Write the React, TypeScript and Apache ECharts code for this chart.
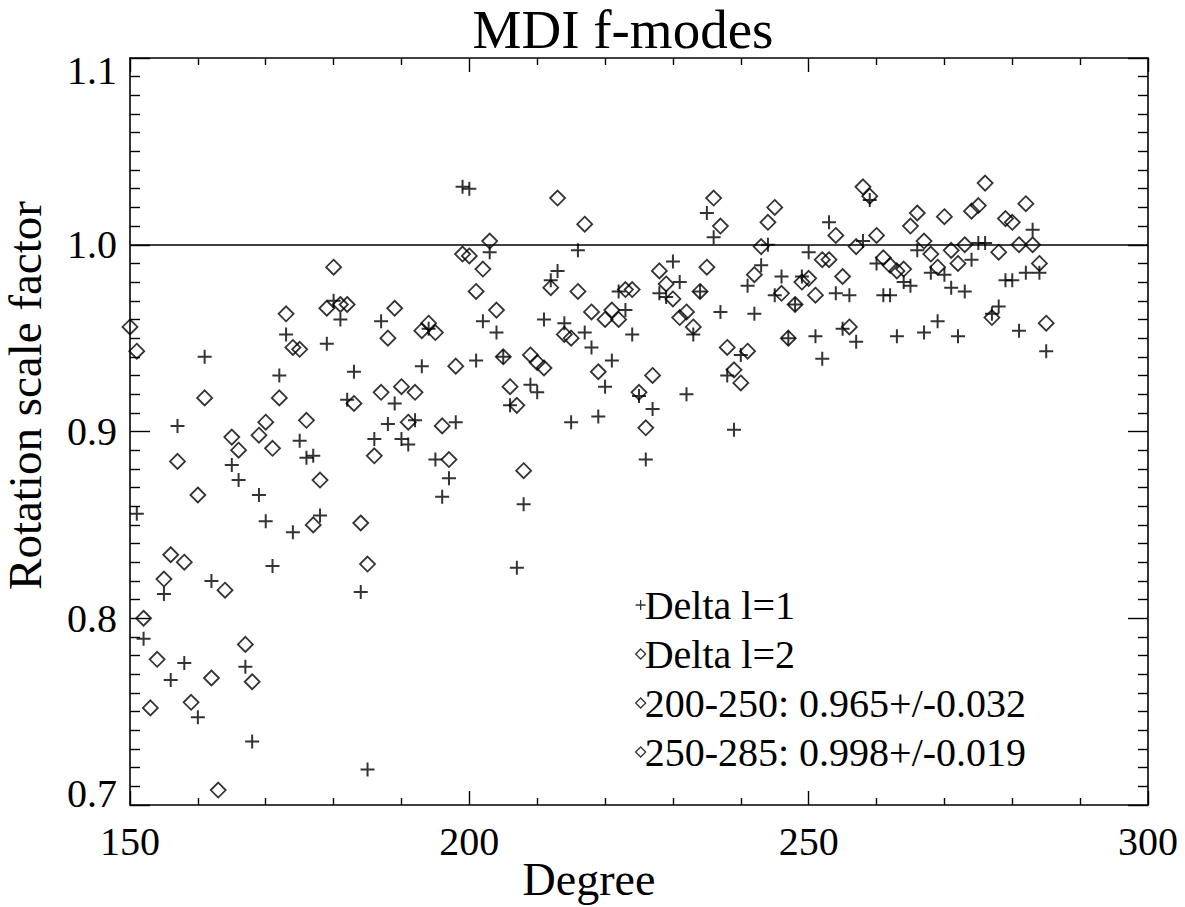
import React, { useEffect, useRef } from "react";
import * as echarts from "echarts";

const FONT = "Liberation Serif";

// Spherical harmonic degree l
const degrees = [
  150, 151, 152, 153, 154, 155, 156, 157, 158, 159, 160, 161, 162, 163, 164, 165, 166, 167, 168, 169,
  170, 171, 172, 173, 174, 175, 176, 177, 178, 179, 180, 181, 182, 183, 184, 185, 186, 187, 188, 189,
  190, 191, 192, 193, 194, 195, 196, 197, 198, 199, 200, 201, 202, 203, 204, 205, 206, 207, 208, 209,
  210, 211, 212, 213, 214, 215, 216, 217, 218, 219, 220, 221, 222, 223, 224, 225, 226, 227, 228, 229,
  230, 231, 232, 233, 234, 235, 236, 237, 238, 239, 240, 241, 242, 243, 244, 245, 246, 247, 248, 249,
  250, 251, 252, 253, 254, 255, 256, 257, 258, 259, 260, 261, 262, 263, 264, 265, 266, 267, 268, 269,
  270, 271, 272, 273, 274, 275, 276, 277, 278, 279, 280, 281, 282, 283, 284, 285,
];

// Delta l = 1 (plus symbols); null = outside the plotted range
const deltaL1 = [
  null, 0.856, 0.789, null, null, 0.813, 0.767, 0.903, 0.776, null, 0.747, 0.94, 0.82, null, null, 0.882, 0.874, 0.774, 0.734, 0.866,
  0.852, 0.828, 0.93, 0.952, 0.846, 0.895, 0.886, 0.887, 0.855, 0.947, 0.97, 0.96, 0.917, 0.932, 0.814, 0.719, 0.896, 0.959, 0.904, 0.915,
  0.896, 0.893, 0.906, 0.935, 0.955, 0.885, 0.865, 0.875, 0.905, 1.031, 1.03, 0.938, 0.959, 0.996, 0.953, 0.94, 0.914, 0.827, 0.861, 0.925,
  0.921, 0.96, 0.981, 0.986, 0.958, 0.905, 0.997, 0.953, 0.945, 0.908, 0.924, 0.938, 0.975, 0.965, 0.952, 0.919, 0.885, 0.912, 0.974, 0.972,
  0.991, 0.98, 0.92, 0.952, 0.975, 1.017, 1.004, 0.964, 0.93, 0.901, 0.941, 0.978, 0.963, 0.989, 1.0, 0.973, 0.983, 0.95, 0.968, 0.983,
  0.996, 0.951, 0.939, 1.012, 0.974, 0.955, 0.973, 0.948, 1.002, 1.024, 0.99, 0.973, 0.973, 0.951, 0.98, 0.978, 0.997, 0.953, 0.985, 0.959,
  0.984, 0.977, 0.951, 0.975, 0.992, 1.001, 1.001, 0.963, 0.967, 0.981, 0.981, 0.954, 0.985, 1.008, 0.985, 0.943,
];

// Delta l = 2 (diamond symbols)
const deltaL2 = [
  0.956, 0.943, 0.8, 0.752, 0.778, 0.821, 0.834, 0.884, 0.83, 0.755, 0.866, 0.918, 0.768, 0.708, 0.815, 0.897, 0.89, 0.786, 0.766, 0.898,
  0.905, 0.891, 0.918, 0.963, 0.945, 0.944, 0.906, 0.85, 0.874, 0.966, 0.988, 0.968, 0.968, 0.915, 0.851, 0.829, 0.887, 0.921, 0.95, 0.966,
  0.924, 0.905, 0.921, 0.954, 0.958, 0.953, 0.903, 0.885, 0.935, 0.995, 0.994, 0.975, 0.987, 1.002, 0.965, 0.94, 0.924, 0.914, 0.879, 0.941,
  0.937, 0.934, 0.977, 1.025, 0.952, 0.95, 0.975, 1.011, 0.964, 0.932, 0.96, 0.965, 0.96, 0.976, 0.976, 0.921, 0.902, 0.93, 0.986, 0.979,
  0.971, 0.961, 0.964, 0.956, 0.975, 0.988, 1.025, 1.01, 0.945, 0.933, 0.926, 0.943, 0.984, 0.999, 1.012, 1.02, 0.974, 0.95, 0.968, 0.98,
  0.982, 0.973, 0.992, 0.992, 1.005, 0.983, 0.956, 0.999, 1.031, 1.026, 1.005, 0.993, 0.989, 0.986, 0.987, 1.01, 1.017, 1.002, 0.995, 0.988,
  1.015, 0.997, 0.99, 1.0, 1.018, 1.021, 1.033, 0.961, 0.996, 1.014, 1.012, 1.0, 1.022, 1.0, 0.99, 0.958,
];

const legendNames = [
  "Delta l=1",
  "Delta l=2",
  "200-250: 0.965+/-0.032",
  "250-285: 0.998+/-0.019",
];
const xAxisTitle = "Degree";
const yAxisTitle = "Rotation scale factor";
const chartTitle = "MDI f-modes";
const referenceLevel = 1.0;
const xTicks = { min: 150, max: 300, interval: 50 };
const yTicks = { min: 0.7, max: 1.1, interval: 0.1 };

const PLUS = "path://M0,7L14,7M7,0L7,14";

function pairs(values: (number | null)[]) {
  const out: [number, number][] = [];
  values.forEach((v, i) => {
    if (v !== null) out.push([degrees[i], v]);
  });
  return out;
}

export default function App() {
  const ref = useRef<HTMLDivElement>(null);

  useEffect(() => {
    if (!ref.current) return;
    const chart = echarts.init(ref.current, undefined, { renderer: "svg" });
    const axisLine = { lineStyle: { color: "#000", width: 1.6 } };
    const lineStyle = { color: "#000", width: 1.4 };

    const xBase = {
      type: "value",
      min: xTicks.min,
      max: xTicks.max,
      interval: xTicks.interval,
      axisLine: { ...axisLine, onZero: false },
      axisTick: { show: true, inside: true, length: 14, lineStyle },
      minorTick: { show: true, splitNumber: 5, length: 7, lineStyle },
      splitLine: { show: false },
      minorSplitLine: { show: false },
    };
    const yBase = {
      type: "value",
      min: yTicks.min,
      max: yTicks.max,
      interval: yTicks.interval,
      axisLine: { ...axisLine, onZero: false },
      axisTick: { show: true, inside: true, length: 20, lineStyle },
      minorTick: { show: true, splitNumber: 10, length: 10, lineStyle },
      splitLine: { show: false },
      minorSplitLine: { show: false },
    };

    chart.setOption({
      animation: false,
      backgroundColor: "#ffffff",
      textStyle: { fontFamily: FONT, color: "#000" },
      title: {
        text: chartTitle,
        left: 623,
        textAlign: "center",
        top: 0,
        padding: 0,
        textStyle: {
          fontFamily: FONT,
          fontSize: 55,
          lineHeight: 58,
          fontWeight: "normal",
          color: "#000",
        },
      },
      grid: {
        left: 130,
        top: 58,
        right: 37,
        bottom: 102,
        containLabel: false,
        outerBoundsMode: "none",
      },
      graphic: [
        {
          type: "text",
          x: 589,
          y: 879,
          silent: true,
          style: {
            text: xAxisTitle,
            font: `46px "${FONT}"`,
            fill: "#000",
            align: "center",
            verticalAlign: "middle",
          },
        },
      ],
      legend: {
        orient: "vertical",
        left: 630,
        top: 580,
        itemGap: 9,
        itemWidth: 10,
        itemHeight: 10,
        selectedMode: false,
        itemStyle: { color: "transparent", borderColor: "#000", borderWidth: 1.3 },
        textStyle: { fontFamily: FONT, fontSize: 40, color: "#000", padding: [0, 0, 0, -6] },
        data: [
          { name: legendNames[0], icon: PLUS },
          { name: legendNames[1], icon: "diamond" },
          { name: legendNames[2], icon: "diamond" },
          { name: legendNames[3], icon: "diamond" },
        ],
      },
      xAxis: [
        {
          ...xBase,
          position: "bottom",
          axisLabel: { fontFamily: FONT, fontSize: 40, color: "#000", margin: 16 },
        },
        { ...xBase, position: "top", axisLabel: { show: false } },
      ],
      yAxis: [
        {
          ...yBase,
          position: "left",
          name: yAxisTitle,
          nameLocation: "middle",
          nameGap: 82,
          nameMoveOverlap: false,
          nameTextStyle: {
            fontFamily: FONT,
            fontSize: 47,
            lineHeight: 46,
            color: "#000",
            padding: [0, 0, 0, 72],
          },
          axisLabel: {
            fontFamily: FONT,
            fontSize: 40,
            lineHeight: 24,
            color: "#000",
            margin: 13,
            formatter: (v: number) => v.toFixed(1),
            verticalAlignMinLabel: "bottom",
            verticalAlignMaxLabel: "top",
          },
        },
        { ...yBase, position: "right", axisLabel: { show: false } },
      ],
      series: [
        {
          name: legendNames[0],
          type: "scatter",
          symbol: PLUS,
          symbolSize: 14,
          data: pairs(deltaL1),
          itemStyle: { color: "transparent", borderColor: "#000", borderWidth: 2 },
          markLine: {
            silent: true,
            symbol: ["none", "none"],
            label: { show: false },
            lineStyle: { color: "#000", width: 1.6, type: "solid" },
            data: [{ yAxis: referenceLevel }],
          },
        },
        {
          name: legendNames[1],
          type: "scatter",
          symbol: "diamond",
          symbolSize: 15,
          data: pairs(deltaL2),
          itemStyle: { color: "transparent", borderColor: "#000", borderWidth: 1.8 },
        },
        {
          name: legendNames[2],
          type: "scatter",
          symbol: "diamond",
          data: [],
          itemStyle: { color: "transparent", borderColor: "#000", borderWidth: 1.3 },
        },
        {
          name: legendNames[3],
          type: "scatter",
          symbol: "diamond",
          data: [],
          itemStyle: { color: "transparent", borderColor: "#000", borderWidth: 1.3 },
        },
      ],
    });
    return () => chart.dispose();
  }, []);

  return (
    <div
      ref={ref}
      style={{ position: "fixed", left: 0, top: 0, width: 1185, height: 907, background: "#fff" }}
    />
  );
}
